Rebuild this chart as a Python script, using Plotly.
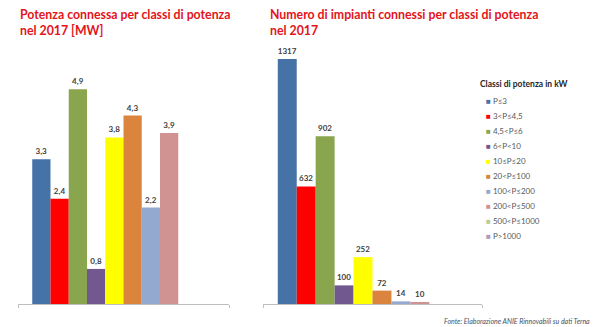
import plotly.graph_objects as go

classes = ["P≤3", "3<P≤4,5", "4,5<P≤6", "6<P<10", "10≤P≤20", "20<P≤100",
           "100<P≤200", "200<P≤500", "500<P≤1000", "P>1000"]
colors = ["#4572A7", "#FF0000", "#89A54E", "#71588F", "#FFFF00", "#DB843D",
          "#93A9CF", "#D19392", "#B9CD96", "#A99BBD"]
power_mw = [3.3, 2.4, 4.9, 0.8, 3.8, 4.3, 2.2, 3.9, None, None]
plants = [1317, 632, 902, 100, 252, 72, 14, 10, None, None]

title_left = "Potenza connessa per classi di potenza<br>nel 2017 [MW]"
title_right = "Numero di impianti connessi per classi di potenza<br>nel 2017"
legend_title = "Classi di potenza in kW"
source = "Fonte: Elaborazione ANIE Rinnovabili su dati Terna"

W, H = 600, 327
FONT = "Lato"

def fmt(v, dec):
    if v is None:
        return ""
    return (f"{v:.1f}".replace(".", ",")) if dec else f"{v:d}"

fig = go.Figure()
for i, name in enumerate(classes):
    for vals, xa, ya, dec in [(power_mw, "x", "y", True), (plants, "x2", "y2", False)]:
        fig.add_trace(go.Bar(
            x=[0], y=[vals[i]], name=name, xaxis=xa, yaxis=ya,
            marker=dict(color=colors[i], line=dict(width=0)),
            text=[fmt(vals[i], dec)], textposition="outside",
            textfont=dict(family=FONT, size=8, color="#404040", weight="bold"),
            cliponaxis=False, showlegend=False, offsetgroup=str(i),
            hoverinfo="skip",
        ))

ybot = (H - 304) / H
ytop = (H - 41) / H
axis_common = dict(range=[-0.5, 0.5], showgrid=False, zeroline=False,
                   showline=True, linecolor="#BFBFBF", linewidth=1,
                   tickvals=[-0.5, 0.5], ticks="outside", ticklen=3,
                   tickcolor="#BFBFBF", showticklabels=False, fixedrange=True)
fig.update_layout(
    width=W, height=H,
    margin=dict(l=0, r=0, t=0, b=0),
    paper_bgcolor="white", plot_bgcolor="white",
    barmode="group", bargap=0.135, bargroupgap=0,
    xaxis=dict(domain=[18 / W, 229 / W], anchor="y", **axis_common),
    xaxis2=dict(domain=[263 / W, 482 / W], anchor="y2", **axis_common),
    yaxis=dict(domain=[ybot, ytop], range=[0, 6], visible=False, fixedrange=True),
    yaxis2=dict(domain=[ybot, ytop], range=[0, 1414], visible=False, fixedrange=True),
    showlegend=False,
)

ann = []
ann.append(dict(text=f"<b>{title_left}</b>", x=18 / W, y=1 - 5 / H, xref="paper", yref="paper",
                xanchor="left", yanchor="top", align="left", showarrow=False,
                font=dict(family=FONT, size=12.3, color="#E3141B")))
ann.append(dict(text=f"<b>{title_right}</b>", x=268 / W, y=1 - 5 / H, xref="paper", yref="paper",
                xanchor="left", yanchor="top", align="left", showarrow=False,
                font=dict(family=FONT, size=12.3, color="#E3141B")))
ann.append(dict(text=f"<b>{legend_title}</b>", x=478 / W, y=1 - 84 / H, xref="paper", yref="paper",
                xanchor="left", yanchor="middle", showarrow=False,
                font=dict(family=FONT, size=8.5, color="#262626")))
for i, name in enumerate(classes):
    yc = 101 + 15 * i
    ann.append(dict(text=f"<span style='color:{colors[i]}'>■</span> {name}",
                    x=484 / W, y=1 - yc / H, xref="paper", yref="paper",
                    xanchor="left", yanchor="middle", showarrow=False,
                    font=dict(family=FONT, size=8, color="#595959")))
ann.append(dict(text=f"<i>{source}</i>", x=592 / W, y=1 - 321 / H, xref="paper", yref="paper",
                xanchor="right", yanchor="middle", showarrow=False,
                font=dict(family=FONT, size=7, color="#44546A")))
fig.update_layout(annotations=ann)

fig.write_html("out.html")
